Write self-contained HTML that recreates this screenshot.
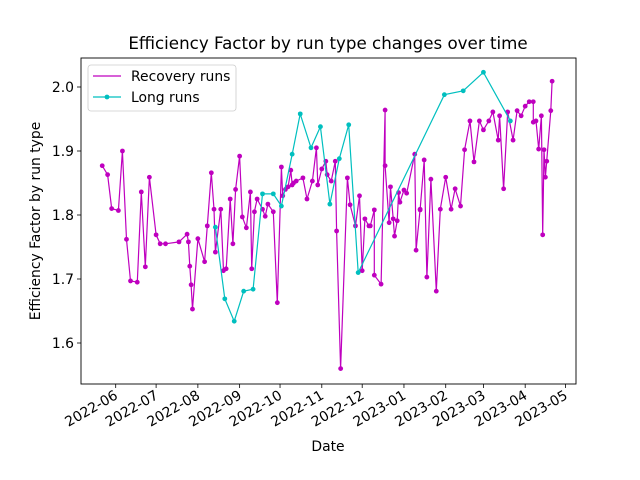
<!DOCTYPE html>
<html><head><meta charset="utf-8"><style>
body{margin:0;background:#fff;}
svg{display:block;font-family:"DejaVu Sans","Liberation Sans",sans-serif;}
</style></head><body>
<svg id="chart" width="640" height="480"></svg>
<script>
const recDays=[-10,-6,-3,2,5,8,11,16,19,22,25,30,33,37,47,53,54,55,56,57,61,66,68,71,73,74,78,80,82,85,87,89,92,94,97,100,101,103,105,109,111,113,117,120,123,124,126,128,130,131,132,134,139,142,146,149,150,153,156,157,160,163,164,167,172,174,178,181,183,185,188,189,192,192,197,200,200,203,204,206,207,209,210,211,214,216,222,223,226,226,229,231,234,238,241,245,249,252,256,259,263,266,270,273,277,280,284,285,288,291,295,298,301,304,307,310,310,312,314,316,317,318,319,320,323,324];
const recVals=[1.877,1.863,1.81,1.807,1.9,1.762,1.697,1.695,1.836,1.719,1.859,1.769,1.755,1.755,1.758,1.77,1.758,1.72,1.691,1.653,1.763,1.727,1.783,1.866,1.809,1.742,1.809,1.713,1.716,1.825,1.755,1.84,1.892,1.797,1.78,1.836,1.716,1.805,1.825,1.809,1.798,1.817,1.805,1.663,1.875,1.83,1.84,1.844,1.87,1.847,1.85,1.853,1.858,1.825,1.853,1.905,1.847,1.872,1.884,1.863,1.853,1.884,1.775,1.56,1.858,1.816,1.783,1.83,1.713,1.794,1.783,1.783,1.808,1.706,1.692,1.964,1.877,1.788,1.844,1.794,1.767,1.791,1.835,1.82,1.839,1.834,1.895,1.745,1.809,1.808,1.886,1.703,1.856,1.681,1.809,1.859,1.809,1.841,1.814,1.902,1.947,1.883,1.947,1.933,1.947,1.961,1.917,1.955,1.841,1.961,1.917,1.963,1.955,1.97,1.977,1.977,1.945,1.947,1.903,1.955,1.769,1.902,1.859,1.884,1.963,2.009];
const longDays=[74,81,88,95,102,109,117,123,131,137,145,152,159,166,173,180,244,258,273,293];
const longVals=[1.781,1.669,1.634,1.681,1.684,1.833,1.833,1.814,1.895,1.958,1.905,1.938,1.817,1.888,1.941,1.71,1.988,1.994,2.023,1.947];
const xTickLabels=["2022-06","2022-07","2022-08","2022-09","2022-10","2022-11","2022-12","2023-01","2023-02","2023-03","2023-04","2023-05"];
const yTicks=[1.6,1.7,1.8,1.9,2.0];

const NS="http://www.w3.org/2000/svg";
const svg=document.getElementById('chart');
const L=81,R=576,T=58,B=384;
const base=Date.UTC(2022,5,1);
function xScale(d){return 115.7+d*1.347;}
function yScale(v){return 343-(v-1.6)*640;}
function el(tag,attrs,parent){const e=document.createElementNS(NS,tag);for(const k in attrs)e.setAttribute(k,attrs[k]);(parent||svg).appendChild(e);return e;}

let t=el('text',{x:328,y:49,'text-anchor':'middle','font-size':16.7,fill:'#000'});t.textContent='Efficiency Factor by run type changes over time';



yTicks.forEach(v=>{
  const y=yScale(v);
  const l=el('line',{x1:L-4,x2:L,y1:y,y2:y,stroke:'#000','stroke-width':0.8});
  
  
  const tx=el('text',{x:L-7,y:y+5,'text-anchor':'end','font-size':13.9});tx.textContent=v.toFixed(1);
  
  
});
xTickLabels.forEach(s=>{
  const [yy,mm]=s.split('-').map(Number);
  const d=(Date.UTC(yy,mm-1,1)-base)/86400000;
  const x=xScale(d);
  const l=el('line',{x1:x,x2:x,y1:B,y2:B+4,stroke:'#000','stroke-width':0.8});
  
  
  const tx=el('text',{x:x+3,y:B+14,'text-anchor':'end','font-size':13.9,transform:`rotate(-30 ${x+3} ${B+14})`});tx.textContent=s;
  
  
});
let xt=el('text',{x:328,y:451,'text-anchor':'middle','font-size':13.9});xt.textContent='Date';


let yt=el('text',{x:40,y:221,'text-anchor':'middle','font-size':13.9,transform:'rotate(-90 40 221)'});yt.textContent='Efficiency Factor by run type';



function series(days,vals,color,name){
  const g=el('g',{});
  
  
  const pts=days.map((d,i)=>xScale(d).toFixed(1)+','+yScale(vals[i]).toFixed(1)).join(' ');
  el('polyline',{points:pts,fill:'none',stroke:color,'stroke-width':1.2},g);
  days.forEach((d,i)=>{
    const c=el('circle',{cx:xScale(d),cy:yScale(vals[i]),r:2.4,fill:color},g);
    
    
  });
}
series(recDays,recVals,'#bf00bf','recovery-runs-series');
series(longDays,longVals,'#00bfbf','long-runs-series');

const fr=el('rect',{x:L,y:T,width:R-L,height:B-T,fill:'none',stroke:'#000','stroke-width':0.9});



const lg=el('g',{});


el('rect',{x:88,y:65,width:148,height:46,rx:3,fill:'#fff','fill-opacity':0.8,stroke:'#ccc','stroke-width':0.8},lg);
el('line',{x1:93,x2:121,y1:76,y2:76,stroke:'#bf00bf','stroke-width':1.2},lg);
let l1=el('text',{x:131,y:81,'font-size':13.9},lg);l1.textContent='Recovery runs';


el('line',{x1:93,x2:121,y1:97,y2:97,stroke:'#00bfbf','stroke-width':1.2},lg);
el('circle',{cx:107,cy:97,r:2.4,fill:'#00bfbf'},lg);
let l2=el('text',{x:131,y:102,'font-size':13.9},lg);l2.textContent='Long runs';


</script>
</body></html>
